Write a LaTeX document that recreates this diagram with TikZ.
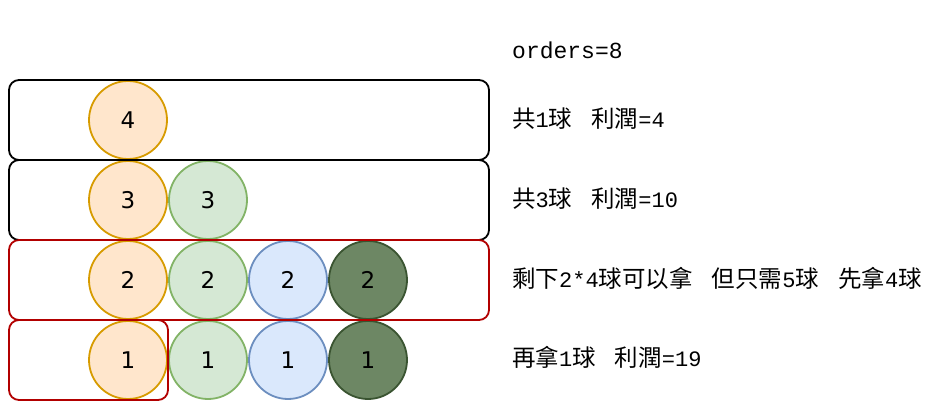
\documentclass[tikz,border=0pt]{standalone}
\usepackage{fontspec}
\setmainfont{Liberation Mono}
\newfontfamily\cjk{Noto Sans CJK SC}
\newfontfamily\numfont{DejaVu Sans}
\definecolor{orfill}{HTML}{FFE6CC}\definecolor{ordraw}{HTML}{D79B00}
\definecolor{grfill}{HTML}{D5E8D4}\definecolor{grdraw}{HTML}{82B366}
\definecolor{blfill}{HTML}{DAE8FC}\definecolor{bldraw}{HTML}{6C8EBF}
\definecolor{dgfill}{HTML}{6D8764}\definecolor{dgdraw}{HTML}{3A5431}
\definecolor{redbox}{HTML}{B20000}
\newcommand{\cj}[1]{{\cjk\fontsize{23.5pt}{26pt}\selectfont #1}}
\newcommand{\gp}{\hspace{19pt}}
\begin{document}
\begin{tikzpicture}[x=1pt,y=-1pt,
  ball/.style={circle,line width=1.8pt,minimum size=78pt,inner sep=0pt,
    font=\numfont\fontsize{23pt}{26pt}\selectfont},
  orb/.style={ball,draw=ordraw,fill=orfill},
  grb/.style={ball,draw=grdraw,fill=grfill},
  blb/.style={ball,draw=bldraw,fill=blfill},
  dgb/.style={ball,draw=dgdraw,fill=dgfill},
  rowbox/.style={rectangle,rounded corners=10pt,line width=1.8pt,inner sep=0pt},
  blackbox/.style={rowbox,draw=black},
  redrow/.style={rowbox,draw=redbox},
  lbl/.style={anchor=west,inner sep=0pt,font=\fontsize{22pt}{26pt}\selectfont},
  biglbl/.style={lbl,font=\fontsize{23pt}{26pt}\selectfont}]
\useasboundingbox (0,0) rectangle (935,406);
% balls
\node[orb] (o4) at (128,120) {4};
\node[orb] (o3) at (128,200) {3};
\node[grb] (g3) at (208,200) {3};
\node[orb] (o2) at (128,280) {2};
\node[grb] (g2) at (208,280) {2};
\node[blb] (b2) at (288,280) {2};
\node[dgb] (d2) at (368,280) {2};
\node[orb] (o1) at (128,360) {1};
\node[grb] (g1) at (208,360) {1};
\node[blb] (b1) at (288,360) {1};
\node[dgb] (d1) at (368,360) {1};
% row boxes
\node[blackbox,minimum width=480pt,minimum height=80pt] (r4) at (249,120) {};
\node[blackbox,minimum width=480pt,minimum height=80pt] (r3) at (249,200) {};
\node[redrow,minimum width=480pt,minimum height=80pt] (r2) at (249,280) {};
\node[redrow,minimum width=159pt,minimum height=80pt] (r1) at (88.5,360) {};
% texts
\node[biglbl] (t0) at (512,50) {orders=8};
\node[lbl] (t1) at (512,119) {\cj{共}1\cj{球}\gp\cj{利潤}=4};
\node[lbl] (t2) at (512,199) {\cj{共}3\cj{球}\gp\cj{利潤}=10};
\node[lbl] (t3) at (512,278) {\cj{剩下}2*4\cj{球可以拿}\gp\cj{但只需}5\cj{球}\gp\cj{先拿}4\cj{球}};
\node[lbl] (t4) at (512,357) {\cj{再拿}1\cj{球}\gp\cj{利潤}=19};
\end{tikzpicture}
\end{document}
